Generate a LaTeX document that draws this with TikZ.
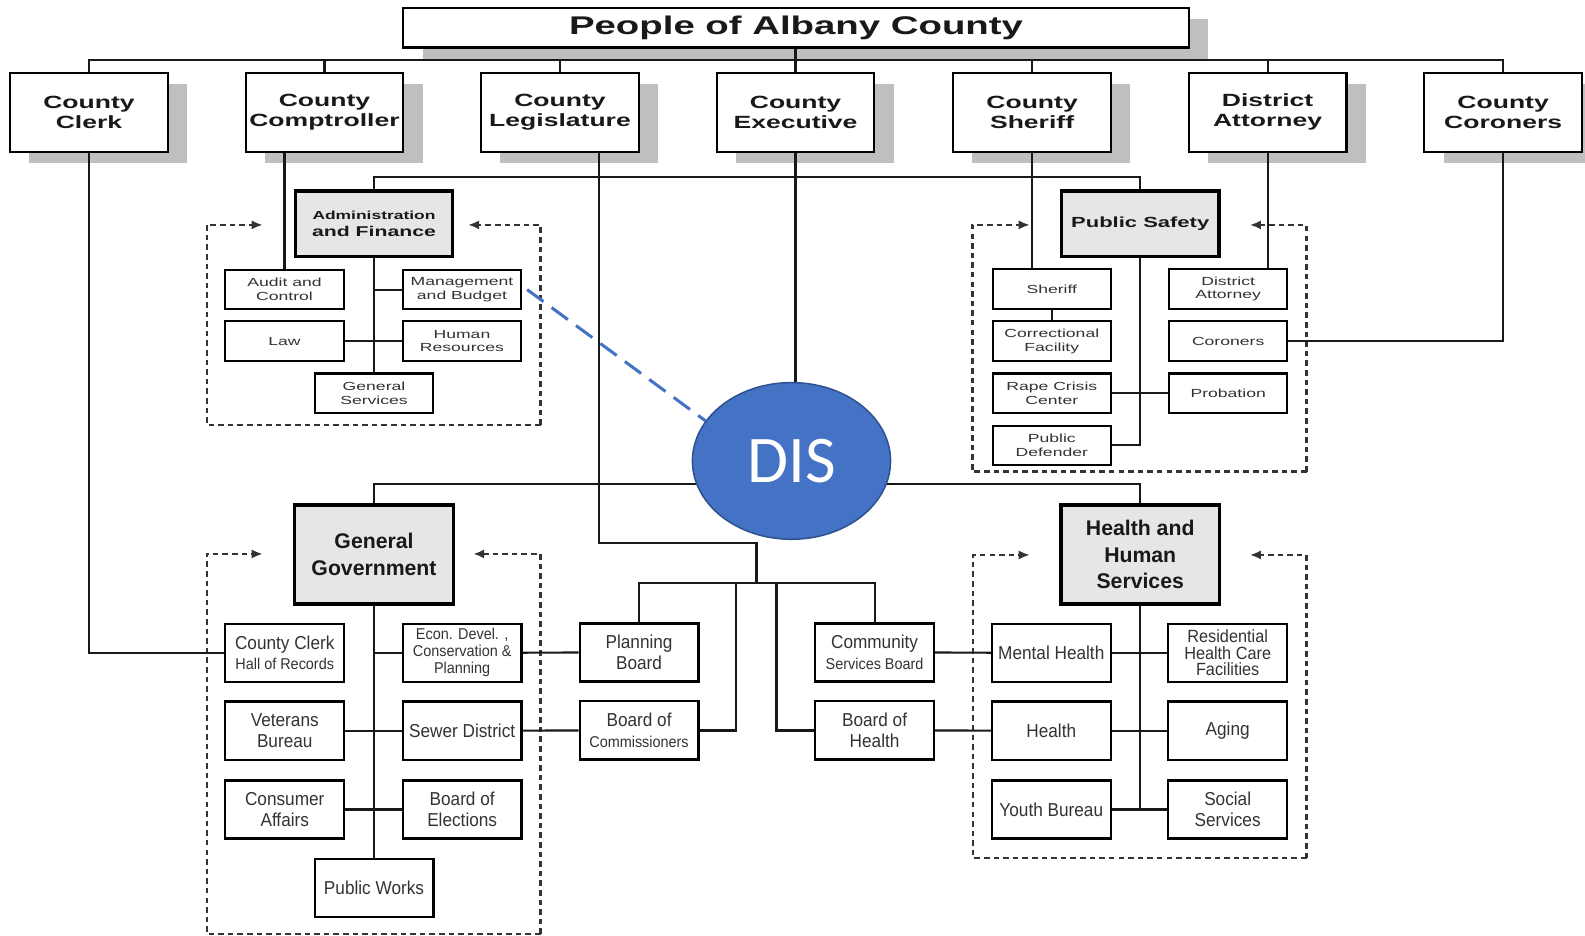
\documentclass[tikz,border=0pt]{standalone}
\usepackage{fontspec}
\setmainfont{Liberation Sans}
\newfontfamily\widef[FakeStretch=1.5]{Liberation Sans}
\newfontfamily\lowf[FakeStretch=0.92]{Liberation Sans}
\newfontfamily\disf{Carlito}
\usetikzlibrary{shadows,arrows.meta,shapes.geometric}
\definecolor{shgray}{HTML}{BFBFBF}
\definecolor{boxgray}{HTML}{E6E6E6}
\definecolor{txtgray}{HTML}{333333}
\definecolor{disblue}{HTML}{4472C4}
\definecolor{disedge}{HTML}{2F528F}
\newcommand{\grpframe}[6]{%
  \draw[dashbox,-{Latex[length=11pt,width=9pt]}] (#2,#4) -- (#1,#4) -- (#1,#3) -- (#5,#3);
  \draw[dashbox,-{Latex[length=11pt,width=9pt]}] (#2,#4) -- (#2,#3) -- (#6,#3);}
\begin{document}
\begin{tikzpicture}[x=1pt,y=-1pt,
  topbox/.style={draw, line width=2.1pt, fill=white, minimum width=156pt, minimum height=78pt,
    inner sep=0pt, align=center, text=black!90,
    font=\widef\bfseries\fontsize{17.5}{19.5}\selectfont,
    drop shadow={shadow xshift=19pt, shadow yshift=-11pt, fill=shgray, opacity=1}},
  titlebox/.style={topbox, minimum width=777pt, minimum height=39pt,
    font=\widef\bfseries\fontsize{25.3}{27}\selectfont},
  grpbox/.style={draw, line width=3.2pt, fill=boxgray, minimum width=156pt, minimum height=65pt,
    inner sep=0pt, align=center, text=black!90},
  upgrp/.style={grpbox, font=\widef\bfseries\fontsize{14}{17.5}\selectfont},
  lowgrp/.style={grpbox, minimum width=157pt, minimum height=98pt,
    font=\bfseries\fontsize{21}{26}\selectfont},
  subup/.style={draw, line width=2pt, fill=white, minimum width=117pt, minimum height=39pt,
    inner sep=0pt, align=center, text=txtgray,
    font=\widef\fontsize{11.6}{13.5}\selectfont},
  sublow/.style={draw, line width=2.2pt, fill=white, minimum width=117.5pt, minimum height=57.5pt,
    inner sep=0pt, align=center, text=txtgray,
    font=\lowf\fontsize{18.5}{20.5}\selectfont},
  conn/.style={line width=2.1pt, black!90},
  dashbox/.style={line width=2.2pt, black!80, dash pattern=on 5.5pt off 4pt}]
\useasboundingbox (0,0) rectangle (1568,925);

% ---------- top level ----------
\node[titlebox] (title) at (787.5,27.5) {People of Albany County};
\node[topbox] (clerk)    at (88,111)   {County\\Clerk};
\node[topbox] (comp)     at (321,111)  {County\\Comptroller};
\node[topbox] (leg)      at (554,111)  {County\\Legislature};
\node[topbox] (exec)     at (787,111)  {County\\Executive};
\node[topbox] (sheriff)  at (1021,111) {County\\Sheriff};
\node[topbox] (da)       at (1254,111) {District\\Attorney};
\node[topbox] (coroners) at (1487,111) {County\\Coroners};

% ---------- group frames ----------
\grpframe{204.4}{534.8}{222.5}{420.4}{260}{463}
\grpframe{962}{1292.5}{222.5}{466.5}{1018.8}{1236.4}
\grpframe{204.4}{534.8}{548}{924}{260}{468}
\grpframe{962.7}{1292.5}{549}{849}{1018.8}{1236.4}

% ---------- administration and finance ----------
\node[upgrp] (adm) at (370,221.5) {{\fontsize{11.5}{17.5}\selectfont Administration}\\and Finance};
\node[subup] (audit) at (281.5,286.5) {Audit and\\Control};
\node[subup] (mgmt)  at (457,286.5)   {Management\\and Budget};
\node[subup] (law)   at (281.5,337.5) {Law};
\node[subup] (hr)    at (457,337.5)   {Human\\Resources};
\node[subup] (gs)    at (370,389)     {General\\Services};

% ---------- public safety ----------
\node[upgrp] (ps) at (1128,221.5) {\fontsize{14.5}{17.5}\selectfont Public Safety};
\node[subup] (sher2) at (1040.5,286)   {Sheriff};
\node[subup] (da2)   at (1215,286)     {District\\Attorney};
\node[subup] (corr)  at (1040.5,337.5) {Correctional\\Facility};
\node[subup] (cor2)  at (1215,337.5)   {Coroners};
\node[subup] (rape)  at (1040.5,389)   {Rape Crisis\\Center};
\node[subup] (prob)  at (1215,389)     {Probation};
\node[subup] (pd)    at (1040.5,440.5) {Public\\Defender};

% ---------- general government ----------
\node[lowgrp] (gg) at (370,548.6) {General\\Government};
\node[sublow] (cclerk) at (281.7,645.7) {County Clerk\\{\fontsize{15.5}{20.5}\selectfont Hall of Records}};
\node[sublow, font=\lowf\fontsize{15.5}{17}\selectfont] (econ) at (457.2,645.7) {Econ. Devel. ,\\Conservation \&\\Planning};
\node[sublow] (vet)   at (281.7,722.8) {Veterans\\Bureau};
\node[sublow] (sewer) at (457.2,722.8) {Sewer District};
\node[sublow] (cons)  at (281.7,800.8) {Consumer\\Affairs};
\node[sublow] (boe)   at (457.2,800.8) {Board of\\Elections};
\node[sublow] (pw)    at (370,878.7)   {Public Works};

% ---------- middle boards ----------
\node[sublow] (plan) at (632.2,645.5) {Planning\\Board};
\node[sublow] (boc)  at (632.2,722.6) {Board of\\{\fontsize{15.5}{20.5}\selectfont Commissioners}};
\node[sublow] (csb)  at (865.2,645.5) {Community\\{\fontsize{15.5}{20.5}\selectfont Services Board}};
\node[sublow] (boh)  at (865.2,722.6) {Board of\\Health};

% ---------- health and human services ----------
\node[lowgrp] (hhs) at (1128,548.6) {Health and\\Human\\Services};
\node[sublow] (mh)     at (1040,645.7)   {Mental Health};
\node[sublow, font=\lowf\fontsize{17.5}{16.5}\selectfont] (res) at (1214.5,645.7) {Residential\\Health Care\\Facilities};
\node[sublow] (health) at (1040,722.8)   {Health};
\node[sublow] (aging)  at (1214.5,722.8) {Aging};
\node[sublow] (youth)  at (1040,800.8)   {Youth Bureau};
\node[sublow] (social) at (1214.5,800.8) {Social\\Services};

% ---------- helper coordinates ----------
\coordinate (legturn) at (748.4,537.4);
\coordinate (legbus)  at (748.4,577);
\coordinate (bl)      at (728,577);
\coordinate (br)      at (768.2,577);

% ---------- connectors ----------
\draw[conn] (exec.north |- title.south) -- (exec.north);
\draw[conn] (clerk.north) -- ++(0,-12) -| (coroners.north);
\foreach \n in {comp,leg,sheriff,da} \draw[conn] (\n.north) -- ++(0,-12);
\draw[conn] (audit.north) -- (audit.north |- comp.south);
\draw[conn] (adm.north) -- ++(0,-12) -| (ps.north);
\draw[conn] (adm.south) -- (gs.north);
\draw[conn] (mgmt.west) -- (mgmt.west -| adm.south);
\draw[conn] (law.east) -- (hr.west);
\draw[conn] (sheriff.south) -- (sheriff.south |- sher2.north);
\draw[conn] (da.south) -- (da.south |- da2.north);
\draw[conn] (sher2.south) -- (corr.north);
\draw[conn] (ps.south) |- (pd.east);
\draw[conn] (rape.east) -- (prob.west);
\draw[conn] (cor2.east) -| (coroners.south);
\draw[conn] (gg.north) -- ++(0,-19.5) -| (hhs.north);
\draw[conn] (gg.south) -- (pw.north);
\draw[conn] (econ.west) -- (econ.west -| gg.south);
\draw[conn] (vet.east) -- (sewer.west);
\draw[conn] (cons.east) -- (boe.west);
\draw[conn] (clerk.south) |- (cclerk.west);
\draw[conn] (econ.east) -- (plan.west);
\draw[conn] (sewer.east) -- (boc.west);
\draw[conn] (csb.east) -- (mh.west);
\draw[conn] (boh.east) -- (health.west);
\draw[conn] (hhs.south) |- (youth.east);
\draw[conn] (youth.east) -- (social.west);
\draw[conn] (mh.east) -- (res.west);
\draw[conn] (health.east) -- (aging.west);
\draw[conn] ([xshift=39pt]leg.south) |- (legturn) -- (legbus);
\draw[conn] (plan.north) |- (legbus) -| (csb.north);
\draw[conn] (boc.east) -| (bl);
\draw[conn] (boh.west) -| (br);

% ---------- DIS ----------
\node[ellipse, fill=disblue, draw=disedge, line width=1.5pt, minimum width=196pt,
  minimum height=155pt, inner sep=0pt, text=white,
  font=\disf\fontsize{66}{66}\selectfont] (dis) at (783,456) {DIS};
\draw[conn] (exec.south) -- (exec.south |- dis.north);
\draw[disblue, line width=3pt, dash pattern=on 20pt off 10pt] ([xshift=5pt]mgmt.east) -- (dis.155);
\end{tikzpicture}
\end{document}
